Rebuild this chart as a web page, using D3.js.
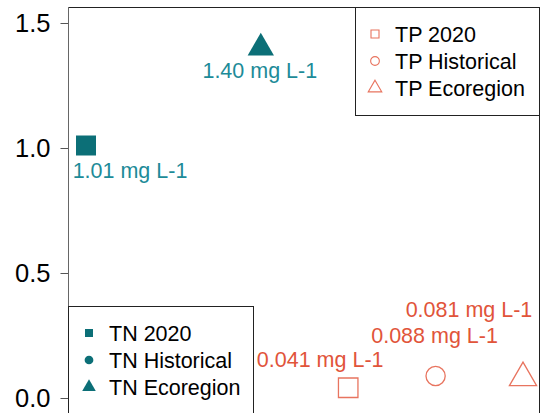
<!DOCTYPE html>
<html>
<head>
<meta charset="utf-8">
<script src="https://cdn.jsdelivr.net/npm/d3@7"></script>
<style>
  body { margin: 0; background: #fff; }
  text { font-family: "Liberation Sans", Arial, sans-serif; }
</style>
</head>
<body>
<svg id="chart" width="541" height="413"></svg>
<script>
// data
var series = ['TN 2020', 'TN Historical', 'TN Ecoregion', 'TP 2020', 'TP Historical', 'TP Ecoregion']
var positions = [1, 2, 3, 4, 5, 6]
var values = [1.01, null, 1.40, 0.041, 0.088, 0.081]
var labels = ['1.01 mg L-1', null, '1.40 mg L-1', '0.041 mg L-1', '0.088 mg L-1', '0.081 mg L-1']
var yTicks = [0.0, 0.5, 1.0, 1.5]

var TEAL = '#0c6f77'
var TEAL_TXT = '#1d8b98'
var ORANGE = '#e8745f'
var ORANGE_TXT = '#e1543a'

var svg = d3.select('#chart')

var x = d3.scaleLinear().domain([1, 6]).range([86, 523])
var y = d3.scaleLinear().domain([0, 1.5]).range([398, 23])

// plot box (bottom runs off the picture)
svg.append('rect')
   .attr('x', 68.5).attr('y', 7.5)
   .attr('width', 471).attr('height', 430)
   .attr('fill', 'none').attr('stroke', '#222').attr('stroke-width', 1)

var yAxis = svg.append('g')
   .attr('transform', 'translate(68.5,0)')
   .call(d3.axisLeft(y).tickValues(yTicks).tickFormat(d3.format('.1f')).tickSize(8).tickPadding(10))
yAxis.select('.domain').remove()
yAxis.selectAll('line').attr('stroke', '#555')
yAxis.selectAll('text').attr('font-size', 25.5).attr('fill', '#000')
   .attr('font-family', '"Liberation Sans", Arial, sans-serif')
svg.append('line')
   .attr('x1', 68.5).attr('x2', 68.5).attr('y1', 7).attr('y2', 413)
   .attr('stroke', '#666')

var shapes = [d3.symbolSquare, d3.symbolCircle, d3.symbolTriangle]
var sizes = [400, 300, 300]
var tpSizes = [380, 290, 320]

// label offsets from the point: [dx, dy]
var labelOffset = [[44, 32], null, [-1, 30], [-28, -21], [-1, -33], [-54, -61]]

var pts = series.map(function (s, i) {
  return { name: s, x: positions[i], v: values[i], label: labels[i], i: i }
}).filter(d => d.v != null)

svg.selectAll('path.pt')
   .data(pts)
   .enter()
   .append('path')
   .attr('class', 'pt')
   .attr('transform', d => 'translate(' + x(d.x) + ',' + y(d.v) + ')')
   .attr('d', d => d3.symbol().type(shapes[d.i % 3]).size(d.i < 3 ? sizes[d.i % 3] : tpSizes[d.i % 3])())
   .attr('fill', d => d.i < 3 ? TEAL : 'none')
   .attr('stroke', d => d.i < 3 ? 'none' : ORANGE)
   .attr('stroke-width', 1.3)

svg.selectAll('text.lab')
   .data(pts)
   .enter()
   .append('text')
   .attr('class', 'lab')
   .attr('x', d => x(d.x) + labelOffset[d.i][0])
   .attr('y', d => y(d.v) + labelOffset[d.i][1])
   .attr('text-anchor', 'middle')
   .attr('font-size', 21.5)
   .attr('fill', d => d.i < 3 ? TEAL_TXT : ORANGE_TXT)
   .text(d => d.label)

// legends
var drawLegend = function (g, names, fill, stroke, mx, tx, y0, dy) {
  names.forEach(function (n, k) {
    g.append('path')
     .attr('transform', 'translate(' + mx + ',' + (y0 + k * dy) + ')')
     .attr('d', d3.symbol().type(shapes[k]).size([64, 60, 80][k])())
     .attr('fill', fill).attr('stroke', stroke).attr('stroke-width', 1.1)
    g.append('text')
     .attr('x', tx).attr('y', y0 + k * dy + 8)
     .attr('font-size', 21.5).attr('fill', '#000')
     .text(n)
  })
}

var tnLeg = svg.append('g')
tnLeg.append('rect')
   .attr('x', 68.5).attr('y', 306.5).attr('width', 185).attr('height', 130)
   .attr('fill', '#fff').attr('stroke', '#222')
drawLegend(tnLeg, series.slice(0, 3), TEAL, 'none', 89, 109, 333, 27)

var tpLeg = svg.append('g')
tpLeg.append('rect')
   .attr('x', 355.5).attr('y', 7.5).attr('width', 184).attr('height', 108)
   .attr('fill', '#fff').attr('stroke', '#222')
drawLegend(tpLeg, series.slice(3, 6), 'none', ORANGE, 375, 395, 34, 27)
</script>
</body>
</html>
